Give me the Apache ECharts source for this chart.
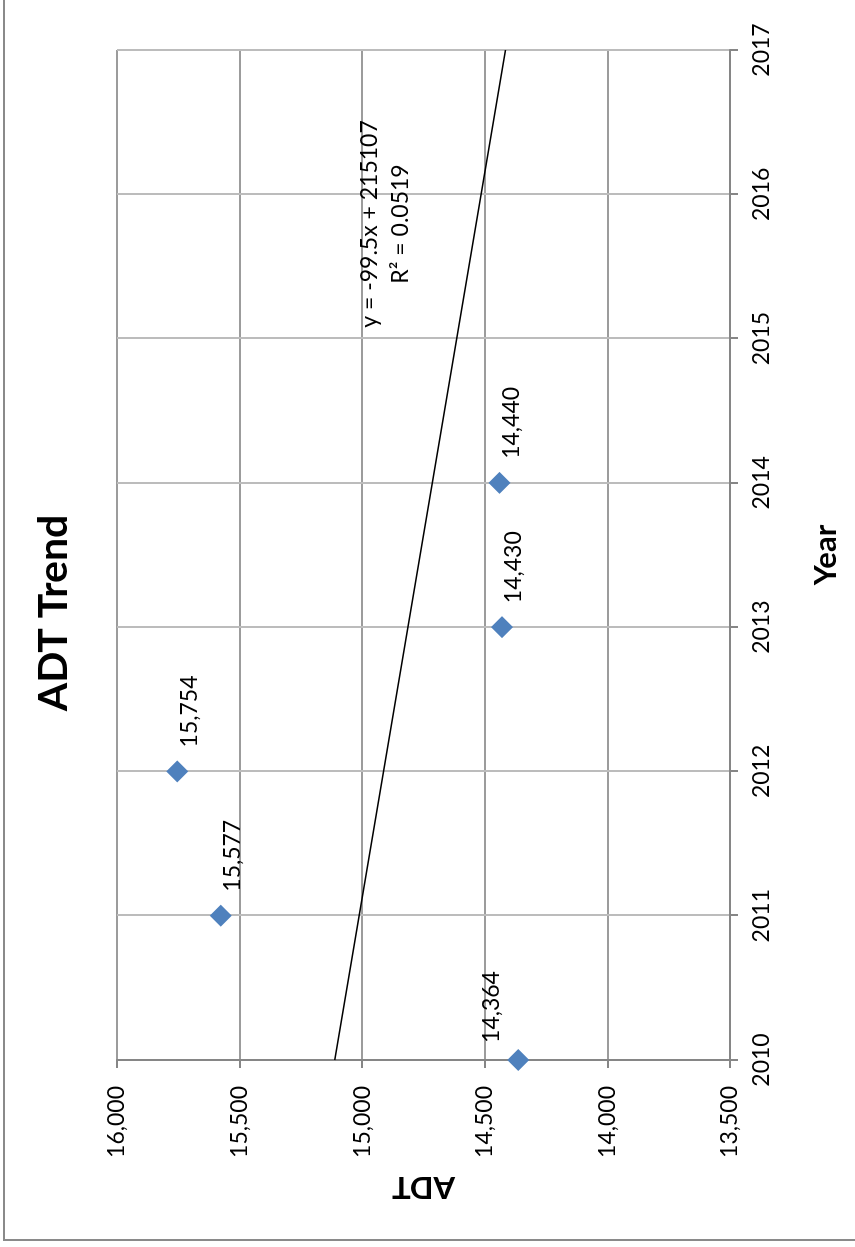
<!DOCTYPE html>
<html>
<head>
<meta charset="utf-8">
<title>ADT Trend</title>
<script src="https://cdn.jsdelivr.net/npm/echarts@6/dist/echarts.min.js"></script>
<style>
  html, body { margin: 0; padding: 0; background: #fff; width: 855px; height: 1247px; overflow: hidden; }
  /* The chart is laid out landscape and turned a quarter turn counter-clockwise onto the portrait page */
  #chart {
    position: absolute; left: 0; top: 0;
    width: 1247px; height: 855px;
    transform-origin: 0 0;
    transform: translate(0, 1247px) rotate(-90deg);
  }
</style>
</head>
<body>
<div id="chart"></div>
<script>
// Observed average daily traffic by year
const years = [2010, 2011, 2012, 2013, 2014];
const adt = [14364, 15577, 15754, 14430, 14440];

// Axis ticks
const yearTicks = [2010, 2011, 2012, 2013, 2014, 2015, 2016, 2017];
const adtTicks = [13500, 14000, 14500, 15000, 15500, 16000];

// Linear trendline (least squares) as reported
const trendSlope = -99.5;
const trendIntercept = 215107;
const trendR2 = '0.0519';

const FONT = 'Lato, "Liberation Sans", Arial, sans-serif';
const withCommas = v => String(Math.round(v)).replace(/\B(?=(\d{3})+(?!\d))/g, ',');

const xMin = yearTicks[0], xMax = yearTicks[yearTicks.length - 1];
const yMin = adtTicks[0], yMax = adtTicks[adtTicks.length - 1];
const trendPoints = [xMin, xMax].map(x => [x, trendSlope * x + trendIntercept]);

// The first point's label sits above the marker instead of to its right
const labelOverrides = { 0: { position: 'top', distance: 4, offset: [53, 0] } };

const chart = echarts.init(document.getElementById('chart'), null, { renderer: 'canvas' });

chart.setOption({
  animation: false,
  backgroundColor: '#ffffff',
  textStyle: { fontFamily: FONT },
  title: {
    text: 'ADT Trend',
    left: 634,
    top: 33,
    padding: 0,
    textAlign: 'center',
    textStyle: { fontFamily: FONT, fontSize: 41, fontWeight: 'bold', color: '#000' }
  },
  grid: { left: 187, right: 50, top: 117, bottom: 125, containLabel: false },
  xAxis: {
    type: 'value',
    min: xMin,
    max: xMax,
    interval: yearTicks[1] - yearTicks[0],
    name: 'Year',
    nameLocation: 'middle',
    nameGap: 80,
    nameTextStyle: { fontFamily: FONT, fontSize: 31, fontWeight: 'bold', color: '#000' },
    axisLine: { show: true, onZero: false, lineStyle: { color: '#868686', width: 2 } },
    axisTick: { show: true, inside: false, length: 8, lineStyle: { color: '#868686', width: 2 } },
    axisLabel: { fontFamily: FONT, fontSize: 23, color: '#000', margin: 20, formatter: v => String(v) },
    splitLine: { show: true, lineStyle: { color: '#bcbcbc', width: 2 } }
  },
  yAxis: {
    type: 'value',
    min: yMin,
    max: yMax,
    interval: adtTicks[1] - adtTicks[0],
    name: 'ADT',
    nameLocation: 'middle',
    nameGap: 112,
    nameTextStyle: { fontFamily: FONT, fontSize: 31, fontWeight: 'bold', color: '#000' },
    axisLine: { show: true, onZero: false, lineStyle: { color: '#868686', width: 2 } },
    axisTick: { show: true, inside: false, length: 8, lineStyle: { color: '#868686', width: 2 } },
    axisLabel: { fontFamily: FONT, fontSize: 23, color: '#000', margin: 26, formatter: v => withCommas(v) },
    splitLine: { show: true, lineStyle: { color: '#9c9c9c', width: 2 } }
  },
  series: [
    {
      name: 'Linear trend',
      type: 'line',
      data: trendPoints,
      showSymbol: false,
      symbol: 'none',
      silent: true,
      lineStyle: { color: '#000', width: 1.6 },
      z: 3
    },
    {
      name: 'ADT',
      type: 'scatter',
      symbol: 'diamond',
      symbolSize: 22,
      itemStyle: { color: '#4f81bd', opacity: 1 },
      label: {
        show: true,
        position: 'right',
        distance: 13,
        offset: [0, 12],
        fontFamily: FONT,
        fontSize: 23,
        color: '#000',
        formatter: p => withCommas(p.value[1])
      },
      data: years.map((y, i) => Object.assign(
        { value: [y, adt[i]] },
        labelOverrides[i] ? { label: labelOverrides[i] } : {}
      )),
      z: 4
    }
  ],
  graphic: [
    {
      type: 'rect',
      silent: true,
      shape: { x: 7, y: 4, width: 1300, height: 900 },
      style: { fill: 'none', stroke: '#8a8a8a', lineWidth: 2 },
      z: 0
    },
    {
      type: 'text',
      silent: true,
      x: 1023,
      y: 354,
      style: {
        text: 'y = ' + trendSlope + 'x + ' + trendIntercept + '\nR\u00b2 = ' + trendR2,
        align: 'center',
        verticalAlign: 'top',
        font: '23px ' + FONT,
        lineHeight: 31,
        fill: '#000'
      },
      z: 10
    }
  ]
});
</script>
</body>
</html>
